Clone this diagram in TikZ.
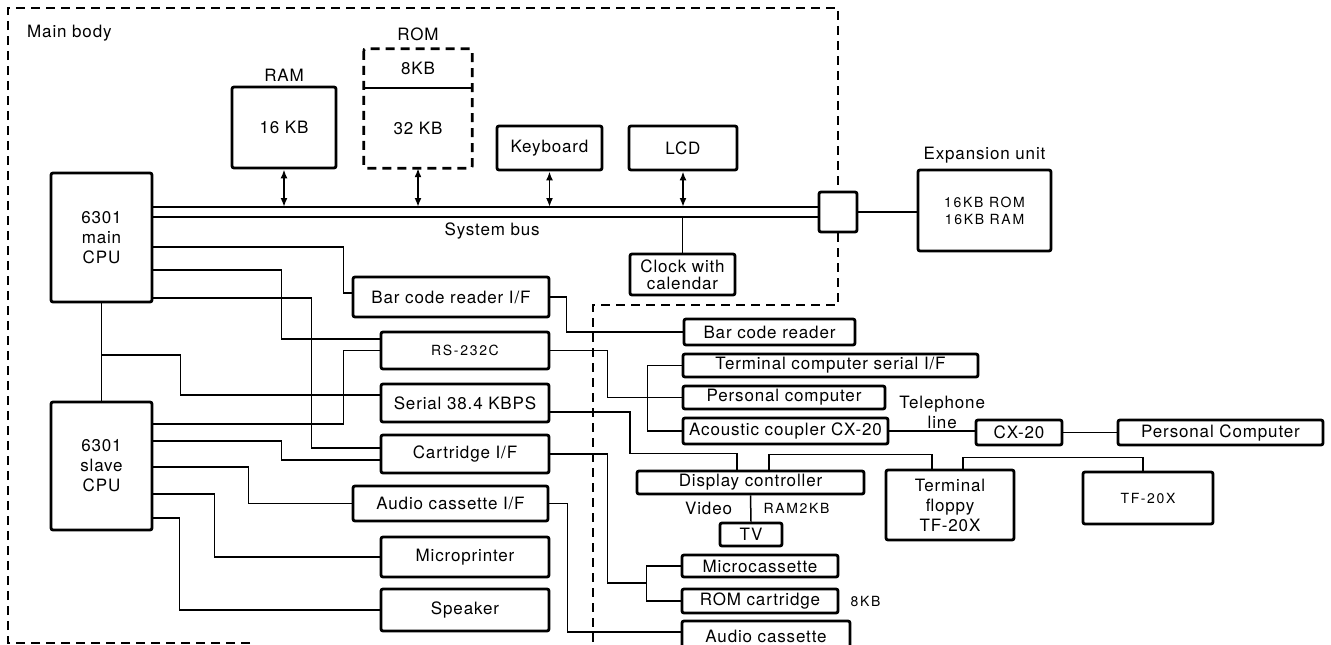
\documentclass[tikz,border=0pt]{standalone}
\usepackage{fontspec}
\setmainfont{TeX Gyre Heros}[LetterSpace=5]
\newfontfamily\smallfont{TeX Gyre Heros}[LetterSpace=12]
\usetikzlibrary{arrows.meta,positioning,calc}
\tikzset{
  unit/.style={draw=black,line width=2.8pt,rounded corners=2pt,fill=white,align=center,inner sep=0pt},
  wire/.style={draw=black,line width=1.5pt},
  busarrow/.style={{Latex[length=9pt,width=7pt]}-{Latex[length=9pt,width=7pt]},line width=1.8pt,draw=black},
  bodyline/.style={draw=black,line width=2.2pt,dash pattern=on 9pt off 6pt},
  lbl/.style={inner sep=1pt,align=center},
  smalltext/.style={font=\smallfont\fontsize{14}{17}\selectfont}
}

\begin{document}
\begin{tikzpicture}[x=1pt,y=-1pt,node distance=10pt,every node/.style={font=\fontsize{17}{20}\selectfont}]
  \useasboundingbox (0,0) rectangle (1331,645);
  \clip (0,0) rectangle (1331,645);

  \node (maincpu) [unit,minimum width=101pt,minimum height=129pt] at (101.5,237.5) {6301\\main\\CPU};
  \node (slavecpu) [unit,minimum width=101pt,minimum height=128pt] at (101.5,466) {6301\\slave\\CPU};
  \node (ram) [unit,minimum width=104pt,minimum height=81pt] at (284,127.5) {16 KB};
  \node (rom8) [lbl,minimum width=108pt,minimum height=39pt,inner sep=0pt] at (418,68.5) {8KB};
  \node (rom32) [lbl,minimum width=108pt,minimum height=80pt,inner sep=0pt] at (418,128) {32 KB};
  \node (keyboard) [unit,minimum width=105pt,minimum height=44pt] at (549.5,148) {Keyboard};
  \node (lcd) [unit,minimum width=108pt,minimum height=44pt] at (683,148) {LCD};
  \node (port) [unit,minimum width=38pt,minimum height=40pt] at (838,212) {};
  \node (expansion) [unit,minimum width=133pt,minimum height=81pt,smalltext] at (984.5,210.5) {16KB ROM\\16KB RAM};
  \node (clock) [unit,minimum width=105pt,minimum height=41pt,font=\fontsize{17}{17}\selectfont] at (682.5,274.5) {Clock with\\calendar};

  \node (bcrif) [unit,minimum width=196pt,minimum height=40pt] at (451,297) {Bar code reader I/F};
  \node (rs232) [unit,minimum width=168pt,minimum height=37pt,smalltext] at (465,350.5) {RS-232C};
  \node (serial) [unit,minimum width=168pt,minimum height=38pt] at (465,403) {Serial 38.4 KBPS};
  \node (cartif) [unit,minimum width=168pt,minimum height=38pt] at (465,454) {Cartridge I/F};
  \node (audioif) [unit,minimum width=195pt,minimum height=35pt] at (450.5,503.5) {Audio cassette I/F};
  \node (microprinter) [unit,minimum width=168pt,minimum height=40pt] at (465,557) {Microprinter};
  \node (speaker) [unit,minimum width=168pt,minimum height=42pt] at (465,610) {Speaker};

  \node (bcr) [unit,minimum width=171pt,minimum height=26pt] at (769.5,332) {Bar code reader};
  \node (termif) [unit,minimum width=295pt,minimum height=23pt] at (830.5,365.5) {Terminal computer serial I/F};
  \node (pc) [unit,minimum width=202pt,minimum height=23pt] at (784,397.5) {Personal computer};
  \node (coupler) [unit,minimum width=205pt,minimum height=26pt] at (785.5,431) {Acoustic coupler CX-20};
  \node (cx20) [unit,minimum width=86pt,minimum height=25pt] at (1019,432.5) {CX-20};
  \node (pcremote) [unit,minimum width=205pt,minimum height=25pt] at (1220.5,432.5) {Personal Computer};
  \node (dispctl) [unit,minimum width=227pt,minimum height=23pt] at (750.5,482.5) {Display controller};
  \node (tv) [unit,minimum width=62pt,minimum height=23pt] at (751,534.5) {TV};
  \node (floppy) [unit,minimum width=128pt,minimum height=70pt] at (950,505) {Terminal\\floppy\\TF-20X};
  \node (tfx) [unit,minimum width=130pt,minimum height=52pt,smalltext] at (1148,498) {TF-20X};
  \node (microcas) [unit,minimum width=156pt,minimum height=22pt] at (760,566) {Microcassette};
  \node (romcart) [unit,minimum width=156pt,minimum height=24pt] at (760,601) {ROM cartridge};
  \node (audiocas) [unit,minimum width=168pt,minimum height=30pt] at (766,636) {Audio cassette};

  \node (mainlbl) [lbl,anchor=west] at (26,33) {Main body};
  \node (ramlbl) [lbl,above=3pt of ram] {RAM};
  \node (romlbl) [lbl,above=7pt of rom8] {ROM};
  \node (explbl) [lbl,above=4pt of expansion] {Expansion unit};
  \node (romcartkb) [lbl,smalltext,right=10pt of romcart] {8KB};

  \draw[line width=2.8pt,dash pattern=on 9pt off 6pt,rounded corners=2pt] (rom8.north west) rectangle (rom32.south east);
  \draw[line width=1.8pt] (rom8.south west) -- (rom8.south east);

  \draw[bodyline] (250,643) -- (8,643) -- (8,8) -- (838,8) -- (port.north);
  \draw[bodyline] (port.south) -- (838,305) -- (593,305) -- (593,660);

  \coordinate (busa) at ([yshift=5pt]port.west);
  \coordinate (busb) at ([yshift=-5pt]port.west);
  \draw[wire] (busa -| maincpu.east) -- (busa);
  \draw[wire] (busb -| maincpu.east) -- (busb) node[lbl,pos=0.51,below=4pt] {System bus};
  \draw[busarrow] (ram.south) -- (ram.south |- busa);
  \draw[busarrow] (rom32.south) -- (rom32.south |- busa);
  \draw[busarrow] (keyboard.south) -- (keyboard.south |- busa);
  \draw[busarrow] (lcd.south) -- (lcd.south |- busa);
  \draw[wire] (clock.north) -- (clock.north |- busb);
  \draw[wire] (port.east) -- (port.east -| expansion.west);

  \draw[wire] (maincpu.south) -- (slavecpu.north);
  \coordinate (tap) at ($(maincpu.south)!0.53!(slavecpu.north)$);
  \draw[wire] (tap) -| ([xshift=-199pt,yshift=8pt]serial.west) -- ([yshift=8pt]serial.west);
  \draw[wire] ([yshift=-9.5pt]maincpu.east) -| ([xshift=-8pt,yshift=4pt]bcrif.west) -- ([yshift=4pt]bcrif.west);
  \draw[wire] ([yshift=-32.5pt]maincpu.east) -| ([xshift=-98pt,yshift=11.5pt]rs232.west) -- ([yshift=11.5pt]rs232.west);
  \draw[wire] ([yshift=-60.5pt]maincpu.east) -| ([xshift=-68pt,yshift=6pt]cartif.west) -- ([yshift=6pt]cartif.west);
  \draw[wire] ([yshift=42pt]slavecpu.east) -| ([xshift=-36pt]rs232.west) -- (rs232.west);
  \draw[wire] ([yshift=25pt]slavecpu.east) -| ([xshift=-98pt,yshift=-6pt]cartif.west) -- ([yshift=-6pt]cartif.west);
  \draw[wire] ([yshift=-1pt]slavecpu.east) -| ([xshift=-103pt]audioif.west) -- (audioif.west);
  \draw[wire] ([yshift=-28pt]slavecpu.east) -| ([xshift=-165pt]microprinter.west) -- (microprinter.west);
  \draw[wire] ([yshift=-52pt]slavecpu.east) -| ([xshift=-200pt]speaker.west) -- (speaker.west);

  \draw[wire] (bcrif.east) -| ([xshift=-116pt]bcr.west) -- (bcr.west);
  \draw[wire] (rs232.east) -| ([xshift=-74pt]pc.west) -- (pc.west);
  \draw[wire] (termif.west) -- ([xshift=-34pt]termif.west) |- (coupler.west);
  \draw[wire] (coupler.east) -- (coupler.east -| cx20.west) node[lbl,pos=0.62,above=1pt] {Telephone\\line};
  \draw[wire] (cx20.east) -- (pcremote.west);
  \draw[wire] ([yshift=-9pt]serial.east) -| ([xshift=-120.5pt,yshift=16pt]dispctl.north) -| ([xshift=-13.5pt]dispctl.north);
  \draw[wire] ([xshift=18.5pt]dispctl.north) |- ([xshift=-18pt,yshift=14pt]floppy.north) -- ([xshift=-18pt]floppy.north);
  \draw[wire] ([xshift=13pt]floppy.north) |- ([xshift=-5pt,yshift=13pt]tfx.north) -- ([xshift=-5pt]tfx.north);
  \draw[wire] (dispctl.south) -- (tv.north) node[lbl,midway,left=17pt] {Video} node[lbl,smalltext,midway,right=11pt] {RAM2KB};
  \draw[wire] (microcas.west) -| ([xshift=-34pt]romcart.west) -- (romcart.west);
  \draw[wire] (cartif.east) -| ([xshift=-73pt,yshift=-17pt]microcas.west) -- ([xshift=-34pt,yshift=-17pt]microcas.west);
  \draw[wire] (audioif.east) -| ([xshift=-113pt,yshift=4pt]audiocas.west) -- ([yshift=4pt]audiocas.west);
\end{tikzpicture}
\end{document}
